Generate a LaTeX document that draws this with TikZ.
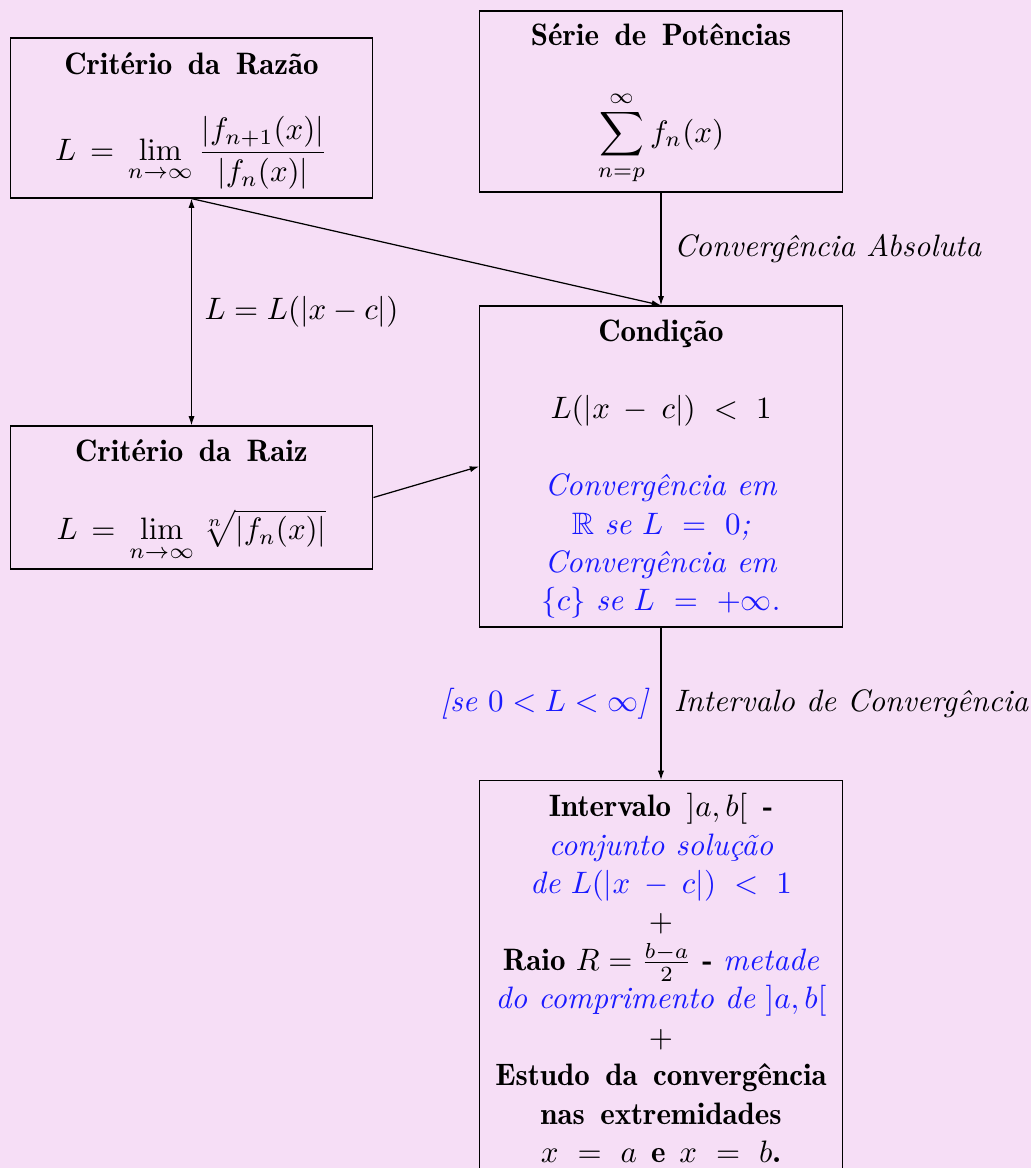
\documentclass[tikz,border=0pt]{standalone}
\usepackage{amsmath,amssymb}
\usetikzlibrary{arrows.meta}
\definecolor{bgpink}{HTML}{F6DEF6}
\definecolor{txtblue}{HTML}{1A1AFF}
\newcommand\bft[1]{{\fontseries{b}\selectfont\spaceskip=5pt plus 1pt minus 1pt #1}}
\newcommand\bl[1]{\textcolor{txtblue}{#1}}
\newcommand\tstrut{\rule{0pt}{8.9pt}}
\begin{document}
\begin{tikzpicture}[x=0.3226pt,y=-0.3226pt,
  box/.style={draw=black, line width=0.4pt, align=center, inner sep=2pt,
    minimum width=117pt, font=\fontsize{10}{12.4}\selectfont},
  conn/.style={draw=black, line width=0.4pt, -{Latex[length=3pt,width=2pt]}},
  biconn/.style={draw=black, line width=0.4pt, {Latex[length=3pt,width=2pt]}-{Latex[length=3pt,width=2pt]}},
  lab/.style={font=\itshape, inner sep=4pt}]
\fill[bgpink] (0,0) rectangle (1031,1168);
\useasboundingbox (0,0) rectangle (1031,1168);

\node[box, minimum height=51.6pt] (razao) at (191.5,118)
  {\tstrut\bft{Critério da Razão}\\[12.4pt]
   $L\mskip3mu=\mskip3mu\displaystyle\lim_{n\to\infty}\frac{|f_{n+1}(x)|}{|f_n(x)|}$};

\node[box, minimum height=58.4pt] (serie) at (661,101.5)
  {\tstrut\bft{Série de Potências}\\[13.5pt]
   $\displaystyle\sum_{n=p}^{\infty} f_n(x)$};

\node[box, minimum height=46.1pt] (raiz) at (191.5,497.5)
  {\tstrut\bft{Critério da Raiz}\\[13pt]
   $L\mskip3mu=\mskip3mu\displaystyle\lim_{n\to\infty}\sqrt[n]{|f_n(x)|}$};

\node[box, minimum height=103.6pt] (cond) at (661,466.5)
  {\tstrut\bft{Condição}\\[12.4pt]
   $L(|x\mskip4mu-\mskip4mu c|)\mskip5.5mu<\mskip5.5mu 1$\\[12.4pt]
   \bl{\textit{Convergência em}}\\
   \bl{$\mathbb{R}$ \textit{se} $L\mskip6mu=\mskip6mu 0$\textit{;}}\\
   \bl{\textit{Convergência em}}\\
   \bl{$\{c\}$ \textit{se} $L\mskip6mu=\mskip6mu +\infty$.}};

\node[box, anchor=north, inner ysep=4.1pt] (interv) at (661,780)
  {\bft{Intervalo}\hspace{5pt}$]a,b[$\hspace{5pt}\bft{-}\\
   \bl{\textit{conjunto solução}}\\
   \bl{\textit{de} $L(|x\mskip4mu-\mskip4mu c|)\mskip5.5mu<\mskip5.5mu 1$}\\
   $+$\\
   \bft{Raio} $R=\frac{b-a}{2}$ \bft{-} \bl{\textit{metade}}\\
   \bl{\textit{do comprimento de} $]a,b[$}\\
   $+$\\
   \bft{Estudo da convergência}\\
   \bft{nas extremidades}\\
   $x\mskip6mu=\mskip6mu a$\hspace{4.5pt}\bft{e}\hspace{4.5pt}$x\mskip6mu=\mskip6mu b$\bft{.}};

\draw[conn] (serie.south) -- node[lab, right] {Convergência Absoluta} (cond.north);
\draw[conn] (razao.south) -- (cond.north);
\draw[biconn] (razao.south) -- node[right, inner sep=4pt] {$L = L(|x-c|)$} (raiz.north);
\draw[conn] (raiz.east) -- (cond.west);
\draw[conn] (cond.south) --
  node[left, inner sep=3.5pt] {\bl{\textit{[se $0<L<\infty$]}}}
  node[lab, right] {Intervalo de Convergência} (interv.north);
\end{tikzpicture}
\end{document}
